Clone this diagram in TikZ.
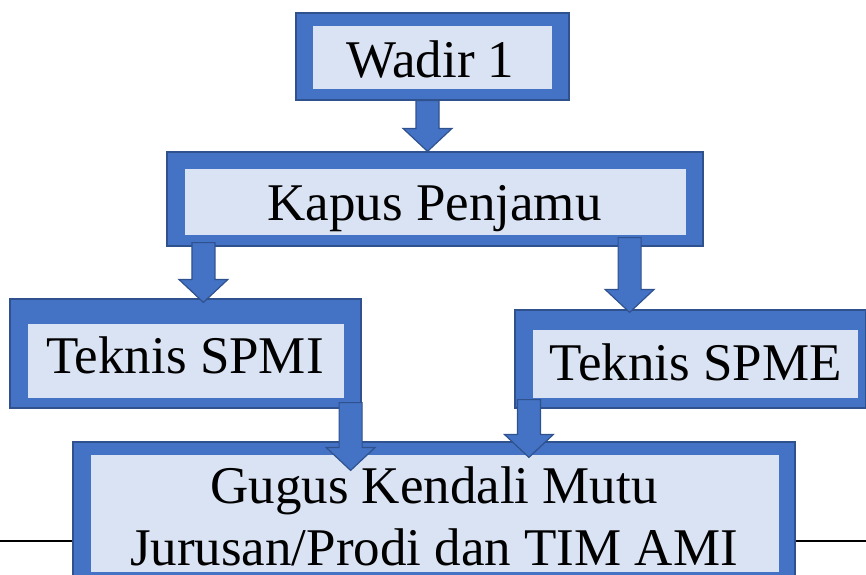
\documentclass[tikz,border=0pt]{standalone}
\usepackage{fontspec}
\setmainfont{Liberation Serif}
\usetikzlibrary{calc}

\definecolor{frameblue}{HTML}{4472C4}
\definecolor{edgeblue}{HTML}{2F528F}
\definecolor{panelfill}{HTML}{DAE3F3}

\begin{document}
\begin{tikzpicture}[
  x=1pt, y=1pt,
  frame/.style={draw=edgeblue, fill=frameblue, line width=1.2pt, inner sep=0},
  panel/.style={fill=panelfill, inner sep=0},
  label/.style={anchor=base, inner sep=0, align=center, font=\fontsize{53}{62}\selectfont},
  blockarrow/.style={draw=edgeblue, fill=frameblue, line width=1.2pt, line join=miter,
    to path={let \p1=(\tikztostart), \p2=(\tikztotarget) in
      (\x1-11.5pt,\y1) -- (\x1+11.5pt,\y1) -- (\x1+11.5pt,\y2+23pt) -- (\x1+24.5pt,\y2+23pt)
      -- (\x1,\y2) -- (\x1-24.5pt,\y2+23pt) -- (\x1-11.5pt,\y2+23pt) -- cycle}}]

  \path[use as bounding box] (0,0) rectangle (866,-574);
  \clip (0,0) rectangle (866,-574);

  % Rule behind the bottom box
  \coordinate (rule-l) at (0,-541);
  \coordinate (rule-r) at (866,-541);
  \draw[line width=1.5pt] (rule-l) -- (rule-r);

  % Position the boxes: outer frame, inner panel, text
  \node[frame, minimum width=273pt, minimum height=87pt] (wadir) at (432.5,-56.5) {};
  \node[panel, minimum width=239pt, minimum height=63pt] (wadir-in) at (432.5,-57.5) {};
  \node[label] (wadir-txt) at (430.5,-77) {Wadir 1};

  \node[frame, minimum width=536pt, minimum height=94pt] (kapus) at (435,-199) {};
  \node[panel, minimum width=501pt, minimum height=66pt] (kapus-in) at (435.5,-202) {};
  \node[label] (kapus-txt) at (434.5,-220) {Kapus Penjamu};

  \node[frame, minimum width=351pt, minimum height=109pt] (spmi) at (185.5,-353.5) {};
  \node[panel, minimum width=316pt, minimum height=74pt] (spmi-in) at (186,-361) {};
  \node[label] (spmi-txt) at (185,-373) {Teknis SPMI};

  \node[frame, minimum width=351pt, minimum height=98pt] (spme) at (690.5,-359) {};
  \node[panel, minimum width=325pt, minimum height=68pt] (spme-in) at (695.5,-364) {};
  \node[label] (spme-txt) at (695.5,-380) {Teknis SPME};

  \node[frame, minimum width=722pt, minimum height=148pt] (gugus) at (434,-516) {};
  \node[panel, minimum width=688pt, minimum height=117pt] (gugus-in) at (435,-513.5) {};
  % base of a two-line node sits on its last line
  \node[label] (gugus-txt) at (434,-565) {Gugus Kendali Mutu\\Jurusan/Prodi dan TIM AMI};

  % Block arrows between the boxes
  \draw[blockarrow] ([xshift=-5pt]wadir.south) to (kapus.north);
  \draw[blockarrow] ([shift={(37pt,4pt)}]kapus.south west) to ([yshift=-4pt]spmi.north);
  \draw[blockarrow] ([shift={(-74pt,9pt)}]kapus.south east) to ([yshift=-3pt]spme.north);
  \draw[blockarrow] ([shift={(-11pt,6pt)}]spmi.south east) to ([yshift=-29pt]gugus.north);
  \draw[blockarrow] ([shift={(14.5pt,9pt)}]spme.south west) to ([yshift=-16pt]gugus.north);

\end{tikzpicture}
\end{document}
